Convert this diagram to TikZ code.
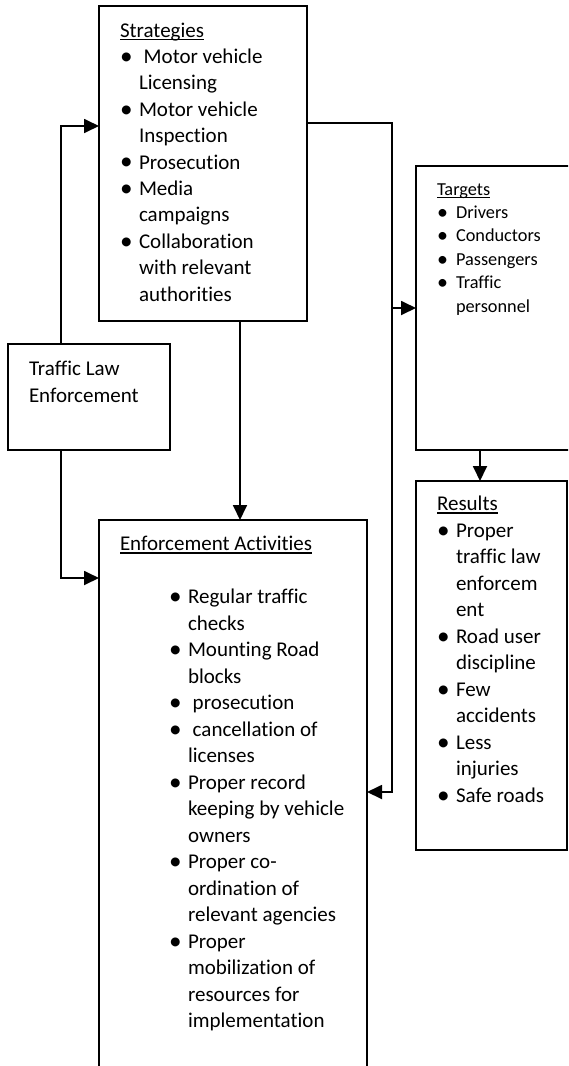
\documentclass[tikz,border=0pt]{standalone}
\usepackage{fontspec}
\setmainfont[Ligatures=NoCommon]{Carlito}
\usetikzlibrary{arrows.meta}
\newcommand\ulin[1]{\leavevmode\setbox0\hbox{#1}\rlap{\rule[-3pt]{\wd0}{1.3pt}}\box0}
\newcommand\bul{\makebox[19pt][l]{\raisebox{-0.8pt}{\scalebox{1.2}{\textbullet}}}}
\newcommand\ind{\hspace*{19pt}}
\begin{document}
\begin{tikzpicture}[x=1pt,y=-1pt,
  box/.style={draw,line width=1.8pt,rectangle,inner sep=0pt,outer sep=0pt,anchor=north west},
  txt/.style={inner sep=0pt,outer sep=0pt,anchor=base west,font=\fontsize{21}{26.4}\selectfont},
  conn/.style={line width=1.8pt},
  arr/.style={conn,-{Triangle[length=15pt,width=14pt]}}]
\useasboundingbox (0,0) rectangle (568,1066);
\clip (0,0) rectangle (568,1066);
% boxes
\node[box,minimum width=208pt,minimum height=315pt] (strat) at (99,6) {};
\node[box,minimum width=162pt,minimum height=106pt] (tle) at (8,344) {};
\node[box,minimum width=200pt,minimum height=284pt] (targ) at (416,166) {};
\node[box,minimum width=151pt,minimum height=369pt] (res) at (416,481) {};
\node[box,minimum width=268pt,minimum height=600pt] (enf) at (99,520) {};
% texts
\node[txt] (stratt) at (120,37) {\begin{tabular}[t]{@{}l@{}}
\ulin{Strategies}\\
\bul\ Motor vehicle\\
\ind Licensing\\
\bul Motor vehicle\\
\ind Inspection\\
\bul Prosecution\\
\bul Media\\
\ind campaigns\\
\bul Collaboration\\
\ind with relevant\\
\ind authorities
\end{tabular}};
\node[txt] (tlet) at (29,375.7) {\begin{tabular}[t]{@{}l@{}}
Traffic Law\\
Enforcement
\end{tabular}};
\node[txt,font=\fontsize{18.3}{23.4}\selectfont] (targt) at (437,195) {\begin{tabular}[t]{@{}l@{}}
\ulin{Targets}\\
\bul Drivers\\
\bul Conductors\\
\bul Passengers\\
\bul Traffic\\
\ind personnel
\end{tabular}};
\node[txt,font=\fontsize{21}{26.5}\selectfont] (rest) at (437,510.7) {\begin{tabular}[t]{@{}l@{}}
\ulin{Results}\\
\bul Proper\\
\ind traffic law\\
\ind enforcem\\
\ind ent\\
\bul Road user\\
\ind discipline\\
\bul Few\\
\ind accidents\\
\bul Less\\
\ind injuries\\
\bul Safe roads
\end{tabular}};
\node[txt,font=\fontsize{21}{26.5}\selectfont] (enft) at (120,550.7) {\begin{tabular}[t]{@{}l@{}}
\ulin{Enforcement Activities}\\
\mbox{}\\
\hspace*{49pt}\bul Regular traffic\\
\hspace*{49pt}\ind checks\\
\hspace*{49pt}\bul Mounting Road\\
\hspace*{49pt}\ind blocks\\
\hspace*{49pt}\bul\ prosecution\\
\hspace*{49pt}\bul\ cancellation of\\
\hspace*{49pt}\ind licenses\\
\hspace*{49pt}\bul Proper record\\
\hspace*{49pt}\ind keeping by vehicle\\
\hspace*{49pt}\ind owners\\
\hspace*{49pt}\bul Proper co-\\
\hspace*{49pt}\ind ordination of\\
\hspace*{49pt}\ind relevant agencies\\
\hspace*{49pt}\bul Proper\\
\hspace*{49pt}\ind mobilization of\\
\hspace*{49pt}\ind resources for\\
\hspace*{49pt}\ind implementation
\end{tabular}};
% connectors
\coordinate (j1) at (392,123);
\coordinate (j2) at (392,792);
\coordinate (j3) at (392,308);
\draw[arr] ([xshift=53pt]tle.north west) |- ([yshift=-120pt]strat.north west);
\draw[arr] ([xshift=53pt]tle.south west) |- ([yshift=-58pt]enf.north west);
\draw[arr] ([xshift=141pt]strat.south west) -- ([xshift=141pt]enf.north west);
\draw[arr] (strat.east |- j1) -| (j2) -- (enf.east |- j2);
\draw[arr] (j3) -- (targ.west |- j3);
\draw[arr] ([xshift=64pt]targ.south west) -- ([xshift=64pt]res.north west);
\end{tikzpicture}
\end{document}
